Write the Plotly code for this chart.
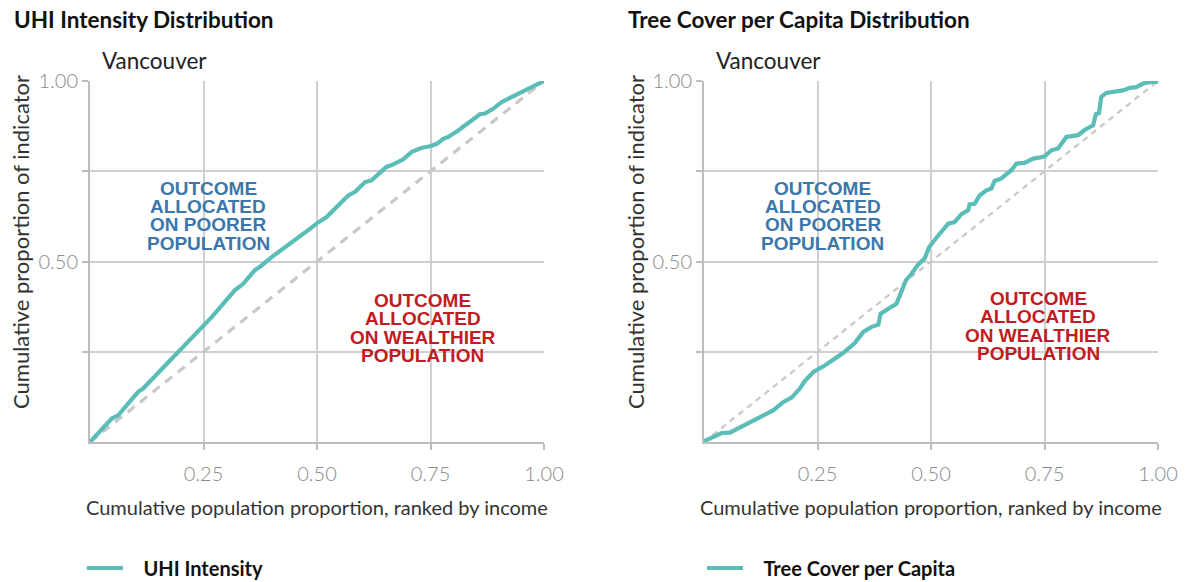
import plotly.graph_objects as go

# ---------------- data ----------------
uhi_x = [0, 0.048, 0.062, 0.106, 0.117, 0.169, 0.191, 0.228, 0.246, 0.268, 0.319, 0.338, 0.363,
         0.378, 0.400, 0.441, 0.485, 0.499, 0.521, 0.547, 0.569, 0.584, 0.606, 0.620, 0.653,
         0.668, 0.690, 0.708, 0.731, 0.749, 0.764, 0.778, 0.789, 0.811, 0.841, 0.859, 0.870,
         0.888, 0.907, 0.932, 0.962, 1.0]
uhi_y = [0, 0.065, 0.074, 0.139, 0.148, 0.217, 0.245, 0.295, 0.319, 0.346, 0.420, 0.439, 0.476,
         0.489, 0.512, 0.549, 0.591, 0.605, 0.623, 0.656, 0.683, 0.693, 0.720, 0.725, 0.762,
         0.769, 0.783, 0.803, 0.815, 0.819, 0.826, 0.840, 0.845, 0.863, 0.891, 0.908, 0.910,
         0.923, 0.942, 0.958, 0.976, 1.0]

tree_x = [0, 0.021, 0.039, 0.057, 0.079, 0.101, 0.138, 0.153, 0.175, 0.193, 0.211, 0.222, 0.241,
          0.266, 0.307, 0.332, 0.351, 0.369, 0.384, 0.389, 0.406, 0.424, 0.433, 0.445, 0.457,
          0.472, 0.486, 0.496, 0.516, 0.538, 0.552, 0.567, 0.582, 0.585, 0.596, 0.607, 0.622,
          0.633, 0.640, 0.655, 0.677, 0.688, 0.706, 0.725, 0.750, 0.765, 0.780, 0.798, 0.824,
          0.839, 0.857, 0.863, 0.870, 0.875, 0.886, 0.905, 0.923, 0.938, 0.952, 0.967, 0.982, 1.0]
tree_y = [0.002, 0.014, 0.025, 0.026, 0.040, 0.055, 0.077, 0.088, 0.111, 0.123, 0.148, 0.169, 0.194,
          0.212, 0.247, 0.274, 0.305, 0.319, 0.325, 0.355, 0.369, 0.383, 0.411, 0.448, 0.466,
          0.492, 0.508, 0.540, 0.572, 0.605, 0.609, 0.631, 0.642, 0.658, 0.660, 0.683, 0.697,
          0.702, 0.723, 0.730, 0.753, 0.771, 0.773, 0.785, 0.791, 0.808, 0.813, 0.845, 0.850,
          0.865, 0.877, 0.908, 0.911, 0.956, 0.967, 0.972, 0.974, 0.981, 0.983, 0.993, 0.997, 0.998]

equality_x = [0, 1]
equality_y = [0, 1]

x_tick_vals = [0.25, 0.5, 0.75, 1.0]
x_tick_text = ["0.25", "0.50", "0.75", "1.00"]
y_tick_vals = [0.25, 0.5, 0.75, 1.0]
y_tick_text = ["", "0.50", "", "1.00"]

panel_titles = ["UHI Intensity Distribution", "Tree Cover per Capita Distribution"]
series_names = ["UHI Intensity", "Tree Cover per Capita"]
city = "Vancouver"
x_title = "Cumulative population proportion, ranked by income"
y_title = "Cumulative proportion of indicator"
poorer_lines = ["OUTCOME", "ALLOCATED", "ON POORER", "POPULATION"]
wealthier_lines = ["OUTCOME", "ALLOCATED", "ON WEALTHIER", "POPULATION"]

# ---------------- layout helpers ----------------
W, H = 1189, 582
OFF = 8  # default page body margin in the browser
def px(x):
    return (x - OFF) / W
def py(y):
    return 1 - (y - OFF) / H

TEAL = "#5bbdb7"
GRID = "#d0d0d0"
AXIS = "#bdbdbd"
BLUE = "#3b77aa"
RED = "#c01c22"
FONT = "Lato"
TICKFONT = dict(family=FONT, size=20, color="#8a8a8a", weight=300)

fig = go.Figure()

panels = [
    dict(xa="x", ya="y", xd=(90, 544), xs=uhi_x, ys=uhi_y, legend="legend", dash_w=3.2, dash="9px,7px",
         title_x=12, city_x=100, ytitle_x=20, poor=(0.26, 0.627), rich=(0.733, 0.316), leg_x=82),
    dict(xa="x2", ya="y2", xd=(704, 1158), xs=tree_x, ys=tree_y, legend="legend2", dash_w=2.2, dash="6px,5px",
         title_x=626, city_x=714, ytitle_x=635, poor=(0.262, 0.627), rich=(0.736, 0.321), leg_x=702),
]

annotations = []
for i, p in enumerate(panels):
    fig.add_trace(go.Scatter(x=equality_x, y=equality_y, mode="lines", xaxis=p["xa"], yaxis=p["ya"],
                             line=dict(color="#c8c8c8", width=p["dash_w"], dash=p["dash"]),
                             showlegend=False, hoverinfo="skip"))
    fig.add_trace(go.Scatter(x=p["xs"], y=p["ys"], mode="lines", xaxis=p["xa"], yaxis=p["ya"],
                             line=dict(color=TEAL, width=4.2),
                             name="&nbsp;&nbsp;&nbsp;<b>" + series_names[i] + "</b>",
                             legend=p["legend"]))
    axkey = "xaxis" if i == 0 else "xaxis2"
    aykey = "yaxis" if i == 0 else "yaxis2"
    fig.update_layout(**{
        axkey: dict(domain=[px(p["xd"][0]), px(p["xd"][1])], range=[0, 1], anchor=p["ya"],
                    tickvals=x_tick_vals, ticktext=x_tick_text, showgrid=True, gridcolor=GRID, gridwidth=1.5,
                    showline=True, linecolor=AXIS, linewidth=2, ticks="outside", ticklen=6, tickwidth=2,
                    tickcolor=AXIS, zeroline=False, automargin=False, tickfont=TICKFONT,
                    ticklabelstandoff=7),
        aykey: dict(domain=[py(442), py(81)], range=[0, 1], anchor=p["xa"],
                    tickvals=y_tick_vals, ticktext=y_tick_text, showgrid=True, gridcolor=GRID, gridwidth=1.5,
                    showline=True, linecolor=AXIS, linewidth=2, ticks="outside", ticklen=6, tickwidth=2,
                    tickcolor=AXIS, zeroline=False, automargin=False, tickfont=TICKFONT),
    })
    # panel title
    annotations.append(dict(text="<b>" + panel_titles[i] + "</b>", xref="paper", yref="paper",
                            x=px(p["title_x"]), y=py(19), xanchor="left", yanchor="middle", showarrow=False,
                            font=dict(family=FONT, size=22.5, color="#111111")))
    annotations.append(dict(text=city, xref="paper", yref="paper", x=px(p["city_x"]), y=py(60),
                            xanchor="left", yanchor="middle", showarrow=False,
                            font=dict(family=FONT, size=22.5, color="#222222")))
    annotations.append(dict(text=x_title, xref="paper", yref="paper",
                            x=px((p["xd"][0] + p["xd"][1]) / 2), y=py(507), xanchor="center", yanchor="middle",
                            showarrow=False, font=dict(family=FONT, size=20, color="#333333")))
    annotations.append(dict(text=y_title, xref="paper", yref="paper", x=px(p["ytitle_x"]), y=py(242),
                            xanchor="center", yanchor="middle", textangle=-90, showarrow=False,
                            font=dict(family=FONT, size=22, color="#333333")))
    for lines, (cx, cy), col in ((poorer_lines, p["poor"], BLUE), (wealthier_lines, p["rich"], RED)):
        n = len(lines)
        for k, t in enumerate(lines):
            annotations.append(dict(text="<b>" + t + "</b>", xref=p["xa"], yref=p["ya"], x=cx, y=cy,
                                    yshift=-(k - (n - 1) / 2) * 18.3, xanchor="center", yanchor="middle",
                                    showarrow=False,
                                    font=dict(family="Liberation Sans", size=19, color=col)))

legend_common = dict(yanchor="middle", xanchor="left", orientation="h", itemwidth=36,
                     font=dict(family=FONT, size=20, color="#111111"), bgcolor="rgba(0,0,0,0)")

fig.update_layout(
    width=W, height=H,
    margin=dict(l=0, r=0, t=0, b=0),
    paper_bgcolor="white", plot_bgcolor="white",
    annotations=annotations,
    legend=dict(x=px(panels[0]["leg_x"]), y=py(568), **legend_common),
    legend2=dict(x=px(panels[1]["leg_x"]), y=py(568), **legend_common),
    showlegend=True,
)

fig.write_html("out.html", config={"displayModeBar": False})
